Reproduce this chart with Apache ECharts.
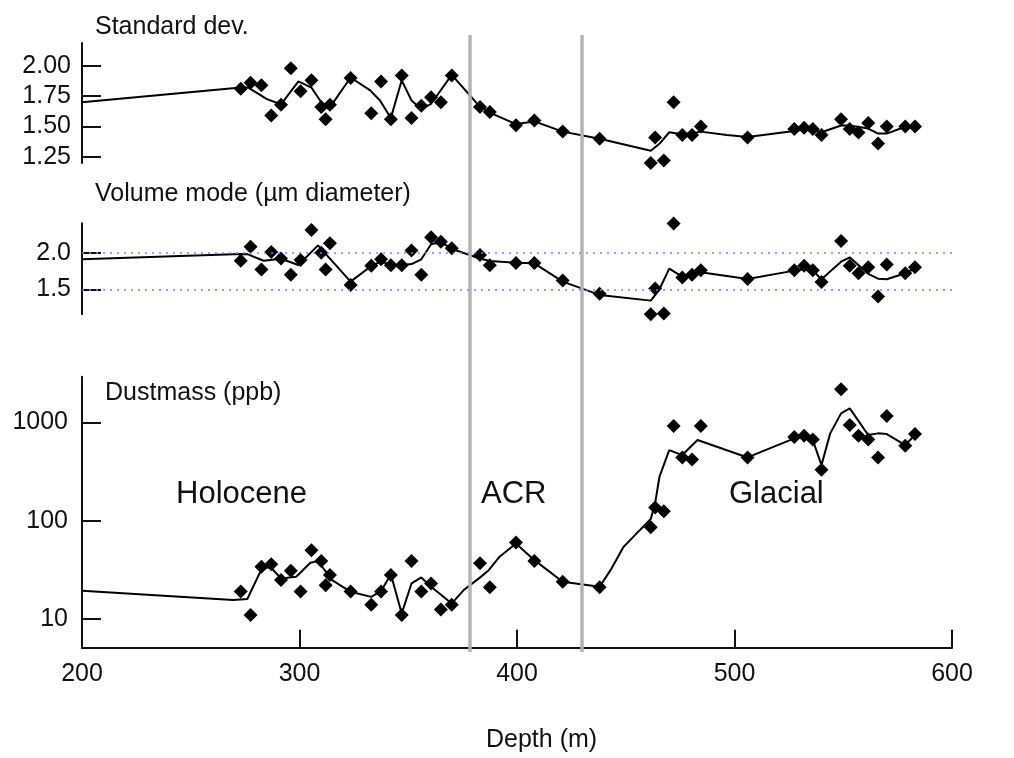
<!DOCTYPE html>
<html>
<head>
<meta charset="utf-8">
<script src="https://cdn.jsdelivr.net/npm/echarts@6/dist/echarts.min.js"></script>
<style>
  html, body { margin: 0; background: #fff; }
  #chart { width: 1014px; height: 758px; }
</style>
</head>
<body>
<div id="chart"></div>
<script>
// sample depths (m), the same samples in all three records
const depths = [273, 277.5, 282.5, 287, 291.5, 296, 300.5, 305.5, 310, 312, 314, 323.5, 333, 337.5, 342, 347,
  351.5, 356, 360.5, 365, 370, 383, 387.5, 399.5, 408, 421, 438, 461.5, 463.5, 467.5, 472, 476, 480.5, 484.5,
  506, 527.5, 532, 536, 540, 549, 553, 557, 561.5, 566, 570, 578.5, 583]

const stdDev = [1.81, 1.86, 1.84, 1.59, 1.68, 1.98, 1.79, 1.88, 1.66, 1.56, 1.68, 1.90, 1.61, 1.87, 1.56, 1.92,
  1.57, 1.67, 1.74, 1.70, 1.92, 1.66, 1.62, 1.51, 1.55, 1.46, 1.40, 1.20, 1.41, 1.22, 1.70, 1.43, 1.43, 1.50,
  1.41, 1.48, 1.49, 1.48, 1.43, 1.56, 1.48, 1.45, 1.53, 1.36, 1.50, 1.50, 1.50]

const volMode = [1.89, 2.08, 1.77, 2.01, 1.92, 1.70, 1.90, 2.31, 2.00, 1.77, 2.13, 1.56, 1.82, 1.91, 1.83, 1.83,
  2.03, 1.70, 2.21, 2.15, 2.06, 1.97, 1.83, 1.86, 1.86, 1.62, 1.44, 1.16, 1.51, 1.17, 2.40, 1.66, 1.70, 1.76,
  1.64, 1.76, 1.82, 1.76, 1.60, 2.16, 1.82, 1.72, 1.80, 1.40, 1.84, 1.72, 1.80]

const dustMass = [19, 11, 34, 36, 25, 31, 19, 50, 39, 22, 28, 19, 14, 19, 28, 11,
  39, 19, 23, 12.5, 14, 37, 21, 60, 39, 24, 21, 86, 136, 125, 920, 440, 420, 920,
  440, 710, 730, 670, 330, 2170, 940, 730, 670, 440, 1160, 580, 760]

// smoothed curves
const sdCurveDepth = [200, 273, 276.5, 285, 291.5, 299.5, 305.5, 310, 313.5, 323.5, 332.5, 337, 342, 347, 351.5,
  356, 360.5, 370, 382.5, 387.5, 399.5, 408, 421, 438, 461.5, 465.5, 470, 476, 480.5, 484.5, 496.5, 506,
  527.5, 532, 536, 540, 549, 553, 561.5, 566, 570, 578.5, 583]
const sdCurve = [1.70, 1.82, 1.82, 1.725, 1.683, 1.872, 1.82, 1.70, 1.645, 1.903, 1.797, 1.714, 1.57, 1.88, 1.714,
  1.645, 1.687, 1.925, 1.672, 1.614, 1.52, 1.542, 1.458, 1.40, 1.30, 1.358, 1.453, 1.437, 1.445, 1.458, 1.431, 1.414,
  1.464, 1.475, 1.47, 1.453, 1.508, 1.508, 1.483, 1.442, 1.442, 1.498, 1.503]

const modeCurveDepth = [200, 273, 276, 283.5, 291.5, 299.5, 308.5, 323.5, 333, 337.5, 342, 347, 351.5, 356,
  360.5, 365, 370, 382.5, 387.5, 399.5, 408, 421, 438, 461.5, 465.5, 470, 476, 480.5, 484.5, 506,
  527.5, 532, 536, 540, 549, 553, 561.5, 566, 570, 578.5, 583]
const modeCurve = [1.91, 1.982, 1.98, 1.89, 1.918, 1.832, 2.10, 1.605, 1.818, 1.88, 1.832, 1.832, 1.845, 1.91,
  2.115, 2.146, 2.055, 1.923, 1.887, 1.864, 1.855, 1.605, 1.423, 1.345, 1.50, 1.782, 1.673, 1.71, 1.732, 1.641,
  1.755, 1.773, 1.755, 1.637, 1.877, 1.937, 1.71, 1.645, 1.637, 1.719, 1.787]

const dustCurveDepth = [200, 269.5, 276, 282.5, 286.5, 291.5, 298.5, 305, 308.5, 315, 323.5, 333, 337.5, 342, 347,
  351.5, 356, 360.5, 370, 375.5, 382.5, 387, 392, 399.5, 408, 421, 438, 443, 449, 455, 461.5, 463.5, 465.5,
  470, 476, 483, 506, 527.5, 532, 536, 540, 544, 549, 553, 561.5, 566, 570, 578.5, 583]
const dustCurve = [19.4, 15.6, 16, 32, 34, 25.9, 26.9, 37.3, 38.8, 24.9, 18.9, 16.8, 19.2, 28.6, 11.4,
  23, 26.5, 21.3, 14.4, 19.7, 25.9, 31.4, 43, 58.7, 39.7, 23.9, 21.3, 31.4, 54.2, 74.3, 104, 150, 280,
  522, 465, 661, 440, 687, 714, 661, 368, 773, 1235, 1387, 743, 773, 760, 588, 743]

// ACR boundaries (m)
const acrBounds = [378.4, 429.9]

const sdTicks = [1.25, 1.5, 1.75, 2.0]
const modeTicks = [1.5, 2.0]
const dustTicks = [10, 100, 1000]

const pairs = (xs, ys) => xs.map((x, i) => [x, ys[i]])

const font = 'Liberation Sans, Arial, Helvetica, sans-serif'
const ink = '#111'

function xAx(gridIndex, show) {
  return {
    type: 'value', gridIndex: gridIndex, min: 200, max: 600, interval: 100,
    show: show,
    axisLine: { lineStyle: { color: ink, width: 2 } },
    axisTick: { inside: true, length: 18, lineStyle: { color: ink, width: 2 } },
    axisLabel: { fontSize: 25, color: ink, fontFamily: font, margin: 14 },
    splitLine: { show: false }
  }
}

function yAx(gridIndex, opt) {
  return Object.assign({
    type: 'value', gridIndex: gridIndex,
    axisLine: { show: true, lineStyle: { color: ink, width: 2 } },
    axisTick: { show: true, inside: true, length: 19, lineStyle: { color: ink, width: 2 } },
    axisLabel: { fontSize: 25, color: ink, fontFamily: font, margin: 11 },
    splitLine: { show: false }
  }, opt)
}

function dots(i, vals) {
  return {
    type: 'scatter', xAxisIndex: i, yAxisIndex: i, symbol: 'diamond', symbolSize: 14,
    itemStyle: { color: '#000', opacity: 1 }, clip: false, z: 4,
    data: pairs(depths, vals)
  }
}

function curve(i, xs, ys) {
  return {
    type: 'line', xAxisIndex: i, yAxisIndex: i, showSymbol: false, symbol: 'none',
    lineStyle: { color: '#000', width: 2 }, z: 3,
    data: pairs(xs, ys)
  }
}

function label(text, left, top, size) {
  return {
    text: text, left: left, top: top, padding: 0,
    textStyle: { fontSize: size, fontWeight: 'normal', color: ink, fontFamily: font }
  }
}

const chart = echarts.init(document.getElementById('chart'))

chart.setOption({
  animation: false,
  backgroundColor: '#fff',
  title: [
    label('Standard dev.', 95, 15, 25),
    label('Volume mode (µm diameter)', 95, 182, 25),
    label('Dustmass (ppb)', 105, 381, 25),
    label('Holocene', 176, 479, 31),
    label('ACR', 481, 479, 31),
    label('Glacial', 729, 479, 31),
    label('Depth (m)', 486, 728, 25)
  ],
  grid: [
    { left: 82, right: 62, top: 43, height: 120 },
    { left: 82, right: 62, top: 223.3, height: 91 },
    { left: 82, right: 62, top: 376.7, height: 271 },
    { left: 82, right: 62, top: 35, height: 617 }
  ],
  xAxis: [xAx(0, false), xAx(1, false), xAx(2, true), xAx(3, false)],
  yAxis: [
    yAx(0, {
      min: 1.2, max: 2.187,
      axisTick: { show: true, inside: true, length: 19, customValues: sdTicks, lineStyle: { color: ink, width: 2 } },
      axisLabel: { fontSize: 25, color: ink, fontFamily: font, margin: 11, customValues: sdTicks,
        formatter: v => v.toFixed(2) }
    }),
    yAx(1, {
      min: 1.158, max: 2.402,
      axisTick: { show: true, inside: true, length: 19, customValues: modeTicks, lineStyle: { color: ink, width: 2 } },
      axisLabel: { fontSize: 25, color: ink, fontFamily: font, margin: 11, customValues: modeTicks,
        formatter: v => v.toFixed(1) }
    }),
    yAx(2, {
      type: 'log', logBase: 10, min: 5.11, max: 2914,
      axisTick: { show: true, inside: true, length: 19, customValues: dustTicks, lineStyle: { color: ink, width: 2 } },
      axisLabel: { fontSize: 25, color: ink, fontFamily: font, margin: 14, customValues: dustTicks,
        formatter: v => String(Math.round(v)) }
    }),
    { type: 'value', gridIndex: 3, min: 0, max: 1, show: false }
  ],
  series: [
    {
      type: 'scatter', xAxisIndex: 3, yAxisIndex: 3, data: [], z: 1, silent: true,
      markLine: {
        symbol: 'none', silent: true, label: { show: false },
        lineStyle: { color: '#b3b3b3', width: 3.5, type: 'solid' },
        data: acrBounds.map(d => ({ xAxis: d }))
      }
    },
    curve(0, sdCurveDepth, sdCurve),
    dots(0, stdDev),
    Object.assign(curve(1, modeCurveDepth, modeCurve), {
      markLine: {
        symbol: 'none', silent: true, label: { show: false },
        lineStyle: { color: '#8080ff', width: 1.5, opacity: 1, type: [2, 5] },
        data: modeTicks.map(v => ({ yAxis: v }))
      }
    }),
    dots(1, volMode),
    curve(2, dustCurveDepth, dustCurve),
    dots(2, dustMass)
  ]
})
</script>
</body>
</html>
